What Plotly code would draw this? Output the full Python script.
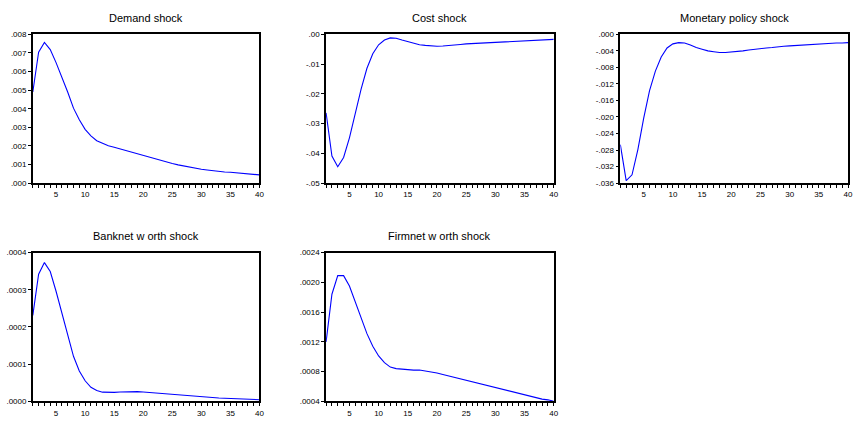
import plotly.graph_objects as go

periods = list(range(1, 41))

demand = [0.0049, 0.00704, 0.00756, 0.00718, 0.00648, 0.0057, 0.0049, 0.00403, 0.00341, 0.00289,
          0.00254, 0.00228, 0.00214, 0.00201, 0.00193, 0.00184, 0.00175, 0.00166, 0.00158, 0.00149,
          0.0014, 0.00131, 0.00122, 0.00113, 0.00105, 0.00098, 0.00091, 0.00085, 0.00079, 0.00074,
          0.0007, 0.00066, 0.00063, 0.0006, 0.00058, 0.00055, 0.00052, 0.0005, 0.00047, 0.00044]

cost = [-0.0264, -0.0409, -0.0445, -0.0414, -0.0348, -0.0266, -0.0184, -0.0114, -0.0065, -0.0035,
        -0.0019, -0.0012, -0.0013, -0.0019, -0.0025, -0.0031, -0.0035, -0.0037, -0.0039, -0.0040,
        -0.0039, -0.0038, -0.0036, -0.0034, -0.0032, -0.0031, -0.0030, -0.0028, -0.0027, -0.0026,
        -0.0025, -0.0024, -0.0023, -0.0022, -0.0021, -0.0020, -0.0019, -0.0018, -0.0018, -0.0017]

monetary = [-0.0267, -0.0354, -0.0340, -0.0279, -0.0203, -0.0136, -0.0089, -0.0055, -0.0033, -0.0023,
            -0.0020, -0.0021, -0.0026, -0.0032, -0.0036, -0.0040, -0.0042, -0.0044, -0.0044, -0.0043,
            -0.0042, -0.0040, -0.0038, -0.0036, -0.0034, -0.0033, -0.0032, -0.0030, -0.0029, -0.0028,
            -0.0027, -0.0026, -0.0026, -0.0025, -0.0024, -0.0023, -0.0022, -0.0021, -0.0021, -0.0020]

bank = [0.000231, 0.000342, 0.000373, 0.000349, 0.000296, 0.000235, 0.000174, 0.000121, 0.0000816, 0.0000553,
        0.0000377, 0.000029, 0.0000246, 0.0000237, 0.0000240, 0.000025, 0.000026, 0.000027, 0.000026, 0.000025,
        0.0000238, 0.0000222, 0.0000205, 0.0000188, 0.0000170, 0.0000158, 0.0000146, 0.0000135, 0.0000123, 0.0000112,
        0.0000105, 0.0000098, 0.0000090, 0.0000082, 0.0000075, 0.0000068, 0.0000062, 0.0000055, 0.0000050, 0.0000044]

firm = [0.00120, 0.00184, 0.00209, 0.00209, 0.00195, 0.00173, 0.00151, 0.00131, 0.00114, 0.00101,
        0.00092, 0.00086, 0.00084, 0.00083, 0.00083, 0.00082, 0.00082, 0.00081, 0.00080, 0.00078,
        0.00076, 0.00074, 0.00072, 0.00070, 0.00068, 0.00066, 0.00064, 0.00062, 0.00060, 0.00058,
        0.00056, 0.00054, 0.00052, 0.00050, 0.00049, 0.00047, 0.00045, 0.00043, 0.00042, 0.00040]

titles = ["Demand shock", "Cost shock", "Monetary policy shock", "Banknet w orth shock", "Firmnet w orth shock"]

y_ticks = [
    [0.000, 0.001, 0.002, 0.003, 0.004, 0.005, 0.006, 0.007, 0.008],
    [-0.05, -0.04, -0.03, -0.02, -0.01, 0.00],
    [-0.036, -0.032, -0.028, -0.024, -0.020, -0.016, -0.012, -0.008, -0.004, 0.000],
    [0.0000, 0.0001, 0.0002, 0.0003, 0.0004],
    [0.0004, 0.0008, 0.0012, 0.0016, 0.0020, 0.0024],
]
y_labels = [
    [".000", ".001", ".002", ".003", ".004", ".005", ".006", ".007", ".008"],
    ["-.05", "-.04", "-.03", "-.02", "-.01", ".00"],
    ["-.036", "-.032", "-.028", "-.024", "-.020", "-.016", "-.012", "-.008", "-.004", ".000"],
    [".0000", ".0001", ".0002", ".0003", ".0004"],
    [".0004", ".0008", ".0012", ".0016", ".0020", ".0024"],
]
x_ticks = [5, 10, 15, 20, 25, 30, 35, 40]

series = [demand, cost, monetary, bank, firm]

W, H = 856, 421
# plot-area pixel boxes (left, right, top, bottom)
boxes = [
    (33, 261, 31, 183),
    (328, 557, 31, 183),
    (624, 853, 31, 183),
    (33, 261, 254, 406),
    (328, 557, 254, 406),
]

fig = go.Figure()
layout = dict(
    width=W, height=H,
    margin=dict(l=0, r=0, t=0, b=0),
    paper_bgcolor="white", plot_bgcolor="white",
    showlegend=False,
    font=dict(family="Liberation Sans, Arial, sans-serif", color="black"),
    annotations=[],
)

for i, (vals, box) in enumerate(zip(series, boxes)):
    n = i + 1
    xa = "x" if n == 1 else f"x{n}"
    ya = "y" if n == 1 else f"y{n}"
    fig.add_trace(go.Scatter(x=periods, y=vals, mode="lines",
                             line=dict(color="#0000FF", width=1.1),
                             xaxis=xa, yaxis=ya, hoverinfo="skip"))
    l, r, t, b = box
    xdom = [l / W, r / W]
    ydom = [1 - b / H, 1 - t / H]
    axis_common = dict(showgrid=False, zeroline=False, showline=True, linecolor="black",
                       linewidth=1.5, mirror=True, ticks="outside", ticklen=3,
                       tickcolor="black", tickwidth=1,
                       tickfont=dict(size=8, family="Liberation Sans, Arial, sans-serif", color="black"))
    layout["xaxis" if n == 1 else f"xaxis{n}"] = dict(
        domain=xdom, range=[1, 40], anchor=ya, tickmode="array", tickvals=x_ticks,
        ticktext=[str(v) for v in x_ticks],
        minor=dict(tickmode="linear", tick0=1, dtick=1, ticks="outside", ticklen=3,
                   tickcolor="black", tickwidth=1),
        **axis_common)
    layout["yaxis" if n == 1 else f"yaxis{n}"] = dict(
        domain=ydom, range=[y_ticks[i][0], y_ticks[i][-1]], anchor=xa, tickmode="array",
        tickvals=y_ticks[i], ticktext=y_labels[i], **axis_common)
    layout["annotations"].append(dict(
        text=titles[i], x=(l + r) / 2 / W, y=1 - (t - 17) / H, xref="paper", yref="paper",
        xanchor="center", yanchor="middle", showarrow=False,
        font=dict(size=11, family="Liberation Sans, Arial, sans-serif", color="black")))

fig.update_layout(**layout)
fig.write_html("out.html", config={"displayModeBar": False},
               post_script="document.body.style.margin='0';document.body.style.overflow='hidden';")
